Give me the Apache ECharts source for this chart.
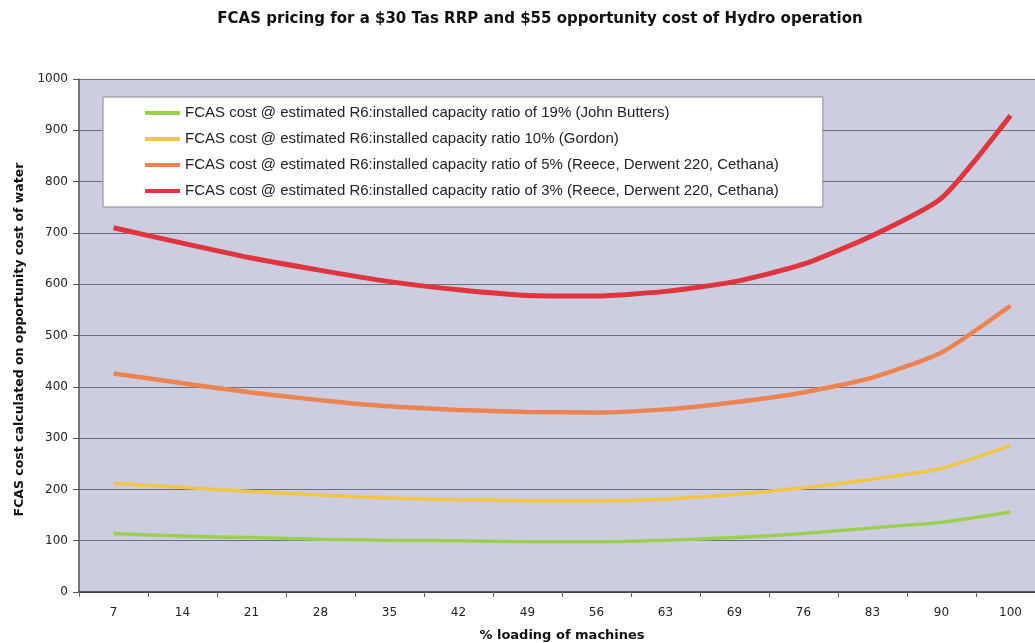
<!DOCTYPE html>
<html>
<head>
<meta charset="utf-8">
<script src="https://cdn.jsdelivr.net/npm/echarts@6/dist/echarts.min.js"></script>
<style>html,body{margin:0;padding:0;background:#fff;}#c{width:1035px;height:643px;}</style>
</head>
<body>
<div id="c"></div>
<script>
const categories = ['7','14','21','28','35','42','49','56','63','69','76','83','90','100'];
const seriesNames = [
  'FCAS cost @ estimated R6:installed capacity ratio of 19% (John Butters)',
  'FCAS cost @ estimated R6:installed capacity ratio 10% (Gordon)',
  'FCAS cost @ estimated R6:installed capacity ratio of 5% (Reece, Derwent 220, Cethana)',
  'FCAS cost @ estimated R6:installed capacity ratio of 3% (Reece, Derwent 220, Cethana)'
];
const green19 = [114,109,106,103,101,100,98,98,101,106,114,125,136,156];
const yellow10 = [212,204,196,189,183,180,178,178,181,190,203,220,241,286];
const orange5 = [426,407,389,374,362,355,351,350,356,370,389,418,467,558];
const red3 = [710,680,651,627,605,589,578,577,586,605,639,695,768,929];
const yTicks = [0,100,200,300,400,500,600,700,800,900,1000];
const colors = ['#9bcf4e','#f3c544','#ee8350','#e0353c'];

const chart = echarts.init(document.getElementById('c'));
const mk = (name, data, color, w) => ({
  name, type: 'line', data, smooth: 0.2, symbol: 'none',
  lineStyle: {color, width: w}, itemStyle: {color}
});
chart.setOption({
  animation: false,
  backgroundColor: '#ffffff',
  title: {
    text: 'FCAS pricing for a $30 Tas RRP and $55 opportunity cost of Hydro operation',
    left: 535, top: 7, textAlign: 'center',
    textStyle: {fontFamily: 'DejaVu Sans', fontSize: 15, fontWeight: 'bold', color: '#111'}
  },
  legend: {
    orient: 'vertical', left: 103, top: 97,
    padding: [8, 44, 8, 42],
    backgroundColor: '#ffffff', borderColor: '#8a8a95', borderWidth: 1,
    itemWidth: 35, itemHeight: 4, itemGap: 10,
    icon: 'rect',
    textStyle: {fontFamily: 'Liberation Sans', fontSize: 15, lineHeight: 16, color: '#222'},
    data: seriesNames
  },
  grid: {left: 79, top: 79, width: 966, height: 513, containLabel: false, outerBoundsMode: 'none',
    backgroundColor: '#cccde0', show: true, borderWidth: 0},
  xAxis: {
    type: 'category', data: categories, boundaryGap: true,
    name: '% loading of machines', nameLocation: 'middle', nameGap: 37,
    nameTextStyle: {fontFamily: 'DejaVu Sans', fontSize: 13, fontWeight: 'bold', color: '#111'},
    axisLine: {lineStyle: {color: '#333', width: 1.5}},
    axisTick: {show: true, length: 5, lineStyle: {color: '#666'}},
    axisLabel: {fontFamily: 'DejaVu Sans', fontSize: 12, color: '#222', margin: 15}
  },
  yAxis: {
    type: 'value', min: 0, max: 1000, interval: 100,
    name: 'FCAS cost calculated on opportunity cost of water', nameLocation: 'middle', nameGap: 50,
    nameTextStyle: {fontFamily: 'DejaVu Sans', fontSize: 12.5, fontWeight: 'bold', color: '#111', padding: [0, 8, 0, 0]},
    axisLine: {show: true, lineStyle: {color: '#555', width: 1.5}},
    axisTick: {show: true, length: 6, lineStyle: {color: '#555'}},
    axisLabel: {fontFamily: 'DejaVu Sans', fontSize: 12, color: '#222', margin: 11,
      formatter: v => yTicks.includes(v) ? String(v) : ''},
    splitLine: {lineStyle: {color: '#6e6e7c', width: 1.2}}
  },
  series: [
    mk(seriesNames[0], green19, colors[0], 3.5),
    mk(seriesNames[1], yellow10, colors[1], 3.5),
    mk(seriesNames[2], orange5, colors[2], 4.5),
    mk(seriesNames[3], red3, colors[3], 5)
  ]
});
</script>
</body>
</html>
